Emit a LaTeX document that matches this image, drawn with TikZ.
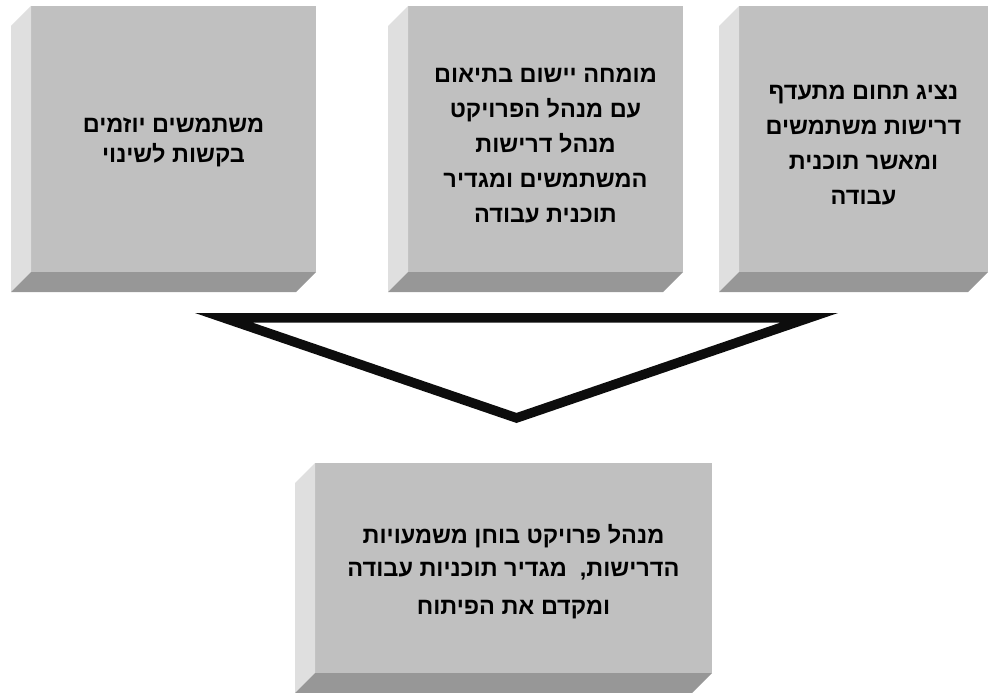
\documentclass[tikz,border=0pt]{standalone}
\usepackage{fontspec}
\newfontfamily\hebfont[Script=Hebrew]{Liberation Sans Bold}
\TeXXeTstate=1
\newcommand\rtl[1]{\beginR #1\endR}
\usetikzlibrary{calc}
\definecolor{frontc}{HTML}{C0C0C0}
\definecolor{sidec}{HTML}{DFDFDF}
\definecolor{bottomc}{HTML}{979797}
\tikzset{
  face/.style={fill=frontc, draw=none, inner sep=0pt, outer sep=0pt},
  boxtext/.style={align=center, inner sep=0pt, font=\hebfont\fontsize{23.5}{35}\selectfont},
}
\newcommand\depthfaces[1]{%
  \fill[sidec] (#1.north west) -- ++(-20,20) -- ($(#1.south west)+(-20,20)$) -- (#1.south west) -- cycle;
  \fill[bottomc] (#1.south west) -- ++(-20,20) -- ($(#1.south east)+(-20,20)$) -- (#1.south east) -- cycle;
}
\begin{document}
\begin{tikzpicture}[x=1pt,y=-1pt]
\useasboundingbox (0,0) rectangle (989,693);
% boxes
\node[face, minimum width=285pt, minimum height=266pt] (b1) at (173.5,139) {};
\node[face, minimum width=275pt, minimum height=266pt] (b2) at (545.5,139) {};
\node[face, minimum width=249pt, minimum height=266pt] (b3) at (863.5,139) {};
\node[face, minimum width=397pt, minimum height=210pt] (b4) at (513.5,568) {};
\depthfaces{b1}
\depthfaces{b2}
\depthfaces{b3}
\depthfaces{b4}
\node[boxtext, font=\hebfont\fontsize{23.5}{30}\selectfont] (t1) at (173.5,142) {\rtl{משתמשים יוזמים}\\\rtl{בקשות לשינוי}};
\node[boxtext] (t2) at (545.5,146) {\rtl{מומחה יישום בתיאום}\\\rtl{עם מנהל הפרויקט}\\\rtl{מנהל דרישות}\\\rtl{המשתמשים ומגדיר}\\\rtl{תוכנית עבודה}};
\node[boxtext] (t3) at (863.5,145) {\rtl{נציג תחום מתעדף}\\\rtl{דרישות משתמשים}\\\rtl{ומאשר תוכנית}\\\rtl{עבודה}};
\node[boxtext] (t4) at (513.5,572) {\rtl{מנהל פרויקט בוחן משמעויות}\\[-2pt]\rtl{הדרישות,\ \ מגדיר תוכניות עבודה}\\[3pt]\rtl{ומקדם את הפיתוח}};
% big down arrow (hollow triangle)
\coordinate (ol) at (195,313);
\coordinate (or) at (838,313);
\coordinate (ot) at (516.5,423);
\coordinate (il) at (252.2,322.5);
\coordinate (ir) at (780.8,322.5);
\coordinate (it) at (516.5,412.9);
\fill[black!95, even odd rule] (ol) -- (or) -- (ot) -- cycle (il) -- (ir) -- (it) -- cycle;
\end{tikzpicture}
\end{document}
